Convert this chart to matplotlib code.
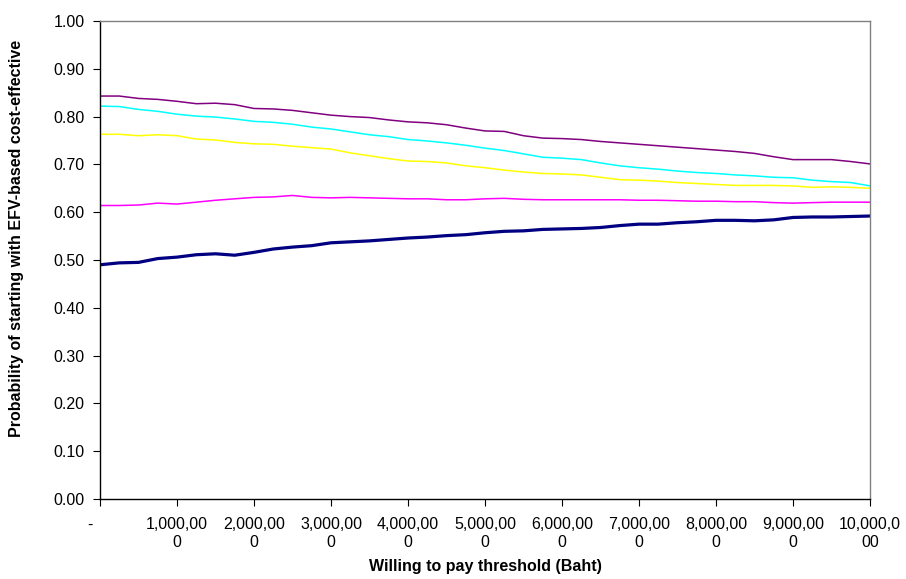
import numpy as np
import matplotlib
matplotlib.use("Agg")
import matplotlib.pyplot as plt

plt.rcParams['font.family'] = ['Liberation Sans', 'DejaVu Sans']

thresholds = np.arange(0, 10_000_001, 250_000)

purple = [0.843, 0.843, 0.838, 0.836, 0.832, 0.827, 0.828, 0.825, 0.817, 0.816, 0.813,
          0.808, 0.803, 0.800, 0.798, 0.793, 0.789, 0.787, 0.783, 0.776, 0.770, 0.769,
          0.760, 0.755, 0.754, 0.752, 0.748, 0.745, 0.742, 0.739, 0.736, 0.733, 0.730,
          0.727, 0.723, 0.716, 0.710, 0.710, 0.710, 0.706, 0.701]
cyan = [0.822, 0.821, 0.815, 0.811, 0.805, 0.801, 0.799, 0.795, 0.790, 0.788, 0.784,
        0.778, 0.774, 0.768, 0.762, 0.758, 0.752, 0.749, 0.745, 0.740, 0.734, 0.729,
        0.722, 0.715, 0.713, 0.710, 0.703, 0.697, 0.693, 0.690, 0.686, 0.683, 0.681,
        0.678, 0.676, 0.673, 0.672, 0.667, 0.664, 0.662, 0.655]
yellow = [0.763, 0.763, 0.760, 0.762, 0.760, 0.753, 0.751, 0.746, 0.743, 0.742, 0.738,
          0.735, 0.732, 0.724, 0.718, 0.712, 0.707, 0.706, 0.703, 0.697, 0.693, 0.688,
          0.684, 0.681, 0.680, 0.678, 0.673, 0.668, 0.667, 0.665, 0.662, 0.660, 0.658,
          0.656, 0.656, 0.656, 0.655, 0.652, 0.653, 0.652, 0.650]
magenta = [0.614, 0.614, 0.615, 0.619, 0.617, 0.621, 0.625, 0.628, 0.631, 0.632, 0.635,
           0.631, 0.630, 0.631, 0.630, 0.629, 0.628, 0.628, 0.626, 0.626, 0.628, 0.629,
           0.627, 0.626, 0.626, 0.626, 0.626, 0.626, 0.625, 0.625, 0.624, 0.623, 0.623,
           0.622, 0.622, 0.620, 0.619, 0.620, 0.621, 0.621, 0.621]
navy = [0.490, 0.494, 0.495, 0.503, 0.506, 0.511, 0.513, 0.510, 0.516, 0.523, 0.527,
        0.530, 0.536, 0.538, 0.540, 0.543, 0.546, 0.548, 0.551, 0.553, 0.557, 0.560,
        0.561, 0.564, 0.565, 0.566, 0.568, 0.572, 0.575, 0.575, 0.578, 0.580, 0.583,
        0.583, 0.582, 0.584, 0.589, 0.590, 0.590, 0.591, 0.592]

x_ticks = np.arange(0, 10_000_001, 1_000_000)
x_tick_labels = ["-    ", "1,000,00\n0", "2,000,00\n0", "3,000,00\n0", "4,000,00\n0",
                 "5,000,00\n0", "6,000,00\n0", "7,000,00\n0", "8,000,00\n0",
                 "9,000,00\n0", "10,000,0\n00"]
y_ticks = np.arange(0, 1.0001, 0.1)
y_tick_labels = [f"{v:.2f}" for v in y_ticks]

fig = plt.figure(figsize=(9.06, 5.79), dpi=100)
ax = fig.add_axes([100/906, 80/579, 770/906, 478/579])

ax.plot(thresholds, purple, color="#800080", lw=1.1)
ax.plot(thresholds, cyan, color="#00FFFF", lw=1.1)
ax.plot(thresholds, yellow, color="#FFFF00", lw=1.1)
ax.plot(thresholds, magenta, color="#FF00FF", lw=1.1)
ax.plot(thresholds, navy, color="#000080", lw=2.3)

ax.set_xlim(0, 10_000_000)
ax.set_ylim(0, 1.0)
ax.set_xticks(x_ticks)
ax.set_xticklabels(x_tick_labels, fontsize=11.5, linespacing=1.25)
ax.set_yticks(y_ticks)
ax.set_yticklabels(y_tick_labels, fontsize=11.5)
ax.tick_params(axis='x', direction='out', length=5, pad=8, color='black')
ax.tick_params(axis='y', direction='out', length=5, pad=6, color='black')

for s in ['left', 'bottom']:
    ax.spines[s].set_color('black')
    ax.spines[s].set_linewidth(1.0)
for s in ['top', 'right']:
    ax.spines[s].set_color('#808080')
    ax.spines[s].set_linewidth(1.0)

ax.set_xlabel("Willing to pay threshold (Baht)", fontsize=11.5, fontweight='bold')
ax.xaxis.set_label_coords(0.5, -0.126)
ax.set_ylabel("Probability of starting with EFV-based cost-effective", fontsize=11.5,
              fontweight='bold')
ax.yaxis.set_label_coords(-0.099, 0.546)

fig.savefig("out.png", dpi=100)
